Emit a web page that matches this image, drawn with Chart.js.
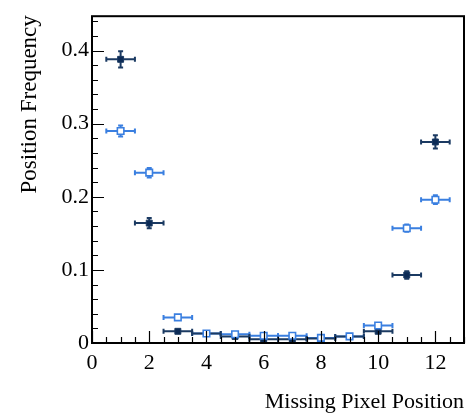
<!DOCTYPE html>
<html>
<head>
<meta charset="utf-8">
<style>
  html, body { margin: 0; padding: 0; background: #ffffff; }
  #wrap { width: 471px; height: 417px; }
</style>
<script src="https://cdn.jsdelivr.net/npm/chart.js@4.4.1/dist/chart.umd.min.js"></script>
</head>
<body>
<div id="wrap"><canvas id="c" width="471" height="417"></canvas></div>
<script>
// Missing pixel position (bin centres) and bin half-width
const positions = [1, 2, 3, 4, 5, 6, 7, 8, 9, 10, 11, 12];
const binHalfWidth = 0.5;

// Position frequency, filled markers
const freqFilled = [0.388, 0.164, 0.016, 0.013, 0.009, 0.005, 0.005, 0.006, 0.009, 0.016, 0.093, 0.275];
const errFilled  = [0.011, 0.007, 0.002, 0.002, 0.002, 0.002, 0.002, 0.002, 0.002, 0.002, 0.005, 0.009];

// Position frequency, open markers
const freqOpen = [0.290, 0.233, 0.035, 0.013, 0.012, 0.010, 0.010, 0.007, 0.009, 0.024, 0.157, 0.196];
const errOpen  = [0.0075, 0.0065, 0.002, 0.002, 0.002, 0.002, 0.002, 0.002, 0.002, 0.003, 0.005, 0.006];

// Axis labelling
const xTickLabels = ['0', '2', '4', '6', '8', '10', '12'];
const yTickLabels = ['0', '0.1', '0.2', '0.3', '0.4'];
const xTitle = 'Missing Pixel Position';
const yTitle = 'Position Frequency';

const DARK = '#1b3a62';
const DARK_FILL = '#0c2b56';
const LIGHT = '#3a7fe0';
const FONT = '"Liberation Serif", "DejaVu Serif", serif';

function toPoints(ys, errs) {
  return positions.map((x, i) => ({ x: x, y: ys[i], err: errs[i] }));
}

// Horizontal bin-width bars and vertical uncertainty bars, with end caps
const errorBars = {
  id: 'errorBars',
  beforeDatasetsDraw(chart) {
    const { ctx, scales: { x, y } } = chart;
    chart.data.datasets.forEach((ds) => {
      ctx.save();
      ctx.strokeStyle = ds.borderColor;
      ctx.lineWidth = 2;
      ds.data.forEach((p) => {
        const px = x.getPixelForValue(p.x);
        const py = y.getPixelForValue(p.y);
        const xl = x.getPixelForValue(p.x - binHalfWidth);
        const xr = x.getPixelForValue(p.x + binHalfWidth);
        const yt = y.getPixelForValue(p.y + p.err);
        const yb = y.getPixelForValue(p.y - p.err);
        ctx.beginPath();
        ctx.moveTo(xl, py); ctx.lineTo(xr, py);
        ctx.moveTo(xl, py - 2.5); ctx.lineTo(xl, py + 2.5);
        ctx.moveTo(xr, py - 2.5); ctx.lineTo(xr, py + 2.5);
        ctx.moveTo(px, yt); ctx.lineTo(px, yb);
        ctx.moveTo(px - 2.5, yt); ctx.lineTo(px + 2.5, yt);
        ctx.moveTo(px - 2.5, yb); ctx.lineTo(px + 2.5, yb);
        ctx.stroke();
      });
      ctx.restore();
    });
  }
};

// Closed frame, inward-pointing major/minor ticks and the top-aligned y title
const frameAndTicks = {
  id: 'frameAndTicks',
  afterDraw(chart) {
    const { ctx, chartArea: a, scales: { x, y } } = chart;
    ctx.save();
    ctx.strokeStyle = '#000';
    ctx.lineWidth = 1.2;
    ctx.beginPath();
    for (let k = 0; k <= 26; k++) {
      const v = k * 0.5;
      if (v > x.max) break;
      const px = Math.round(x.getPixelForValue(v)) + 0.5;
      const len = (k % 4 === 0) ? 12 : 6;
      ctx.moveTo(px, a.bottom); ctx.lineTo(px, a.bottom - len);
    }
    for (let k = 0; k <= 22; k++) {
      const v = k * 0.02;
      if (v > y.max) break;
      const py = Math.round(y.getPixelForValue(v)) + 0.5;
      const len = (k % 5 === 0) ? 12 : 6;
      ctx.moveTo(a.left, py); ctx.lineTo(a.left + len, py);
    }
    ctx.stroke();
    ctx.lineWidth = 2;
    ctx.strokeRect(a.left, a.top, a.right - a.left, a.bottom - a.top);

    ctx.translate(36, a.top - 1);
    ctx.rotate(-Math.PI / 2);
    ctx.fillStyle = '#000';
    ctx.font = '23px ' + FONT;
    ctx.textAlign = 'right';
    ctx.textBaseline = 'alphabetic';
    ctx.fillText(yTitle, 0, 0);
    ctx.restore();
  }
};

new Chart(document.getElementById('c'), {
  type: 'scatter',
  data: {
    datasets: [
      {
        label: 'open',
        data: toPoints(freqOpen, errOpen),
        borderColor: LIGHT,
        backgroundColor: '#ffffff',
        pointStyle: 'rect',
        pointRadius: 4.6,
        pointBorderWidth: 1.6
      },
      {
        label: 'filled',
        data: toPoints(freqFilled, errFilled),
        borderColor: DARK,
        backgroundColor: DARK_FILL,
        pointStyle: 'rect',
        pointRadius: 4.2,
        pointBorderWidth: 1
      }
    ]
  },
  options: {
    responsive: false,
    animation: false,
    events: [],
    layout: { padding: { top: 7, right: 7, left: 0, bottom: 0 } },
    plugins: { legend: { display: false }, tooltip: { enabled: false } },
    scales: {
      x: {
        type: 'linear',
        min: 0,
        max: 13,
        border: { display: false },
        grid: { display: false, drawTicks: false },
        ticks: {
          stepSize: 2,
          includeBounds: false,
          padding: 7,
          color: '#000',
          font: { family: FONT, size: 22 },
          callback: (v) => Number.isInteger(v / 2) && xTickLabels[v / 2] !== undefined ? xTickLabels[v / 2] : ''
        },
        title: {
          display: true,
          text: xTitle,
          align: 'end',
          color: '#000',
          font: { family: FONT, size: 22 },
          padding: { top: 0, bottom: 2 }
        },
        afterFit(s) { s.height = 74; }
      },
      y: {
        type: 'linear',
        min: 0,
        max: 0.447,
        border: { display: false },
        grid: { display: false, drawTicks: false },
        ticks: {
          stepSize: 0.1,
          includeBounds: false,
          padding: 3,
          color: '#000',
          font: { family: FONT, size: 22 },
          callback: (v) => {
            const i = Math.round(v * 10);
            return Math.abs(v * 10 - i) < 1e-6 && yTickLabels[i] !== undefined ? yTickLabels[i] : '';
          }
        },
        title: { display: false },
        afterFit(s) { s.width = 92; }
      }
    }
  },
  plugins: [errorBars, frameAndTicks]
});
</script>
</body>
</html>
